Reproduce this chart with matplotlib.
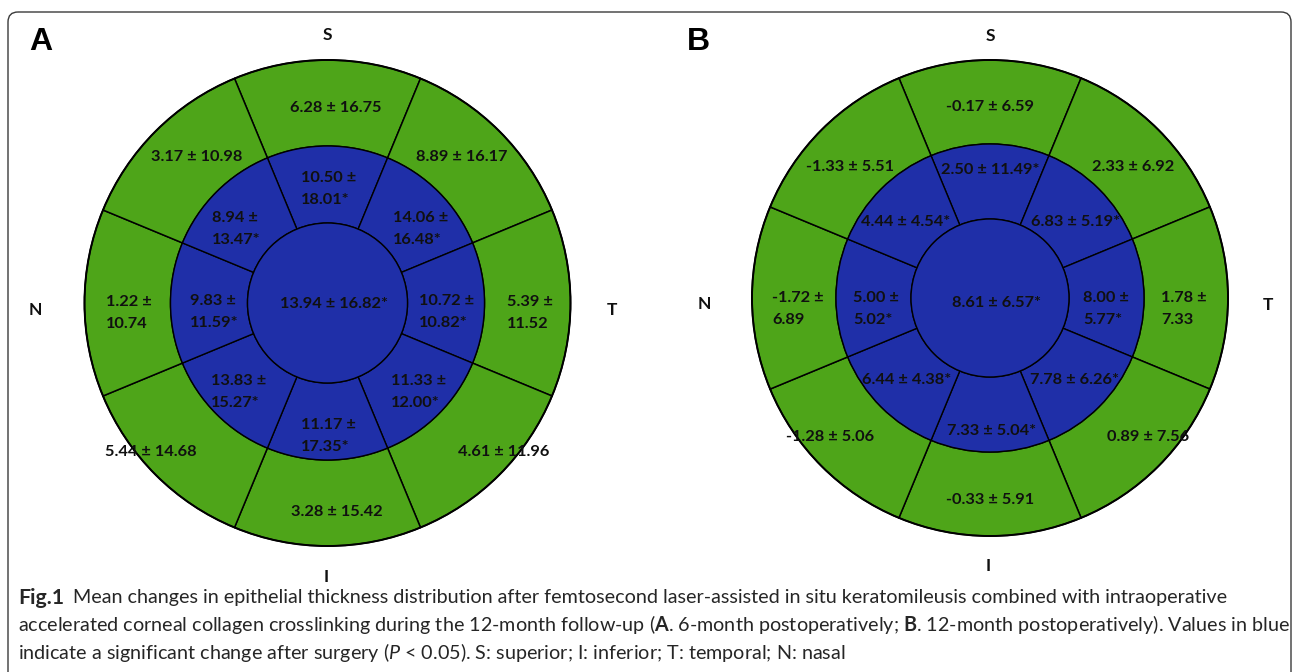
import matplotlib
matplotlib.use('Agg')

import matplotlib.pyplot as plt
from matplotlib.patches import Wedge, Circle, FancyBboxPatch

plt.rcParams['font.family'] = ['Lato', 'DejaVu Sans']
plt.rcParams['mathtext.fontset'] = 'custom'
plt.rcParams['mathtext.rm'] = 'Lato'
plt.rcParams['mathtext.bf'] = 'Lato:bold'
plt.rcParams['mathtext.it'] = 'Lato:italic'

# sectors, clockwise from superior (temporal on the right)
sectors = ["S", "ST", "T", "IT", "I", "IN", "N", "SN"]

# panel A: 6-month postoperatively
a_outer_mean = [6.28, 8.89, 5.39, 4.61, 3.28, 5.44, 1.22, 3.17]
a_outer_sd = [16.75, 16.17, 11.52, 11.96, 15.42, 14.68, 10.74, 10.98]
a_inner_mean = [10.50, 14.06, 10.72, 11.33, 11.17, 13.83, 9.83, 8.94]
a_inner_sd = [18.01, 16.48, 10.82, 12.00, 17.35, 15.27, 11.59, 13.47]
a_center = (13.94, 16.82)

# panel B: 12-month postoperatively
b_outer_mean = [-0.17, 2.33, 1.78, 0.89, -0.33, -1.28, -1.72, -1.33]
b_outer_sd = [6.59, 6.92, 7.33, 7.56, 5.91, 5.06, 6.89, 5.51]
b_inner_mean = [2.50, 6.83, 8.00, 7.78, 7.33, 6.44, 5.00, 4.44]
b_inner_sd = [11.49, 5.19, 5.77, 6.26, 5.04, 4.38, 5.02, 4.54]
b_center = (8.61, 6.57)

# significant change (P < 0.05): all inner-ring and central values
outer_sig = [False] * 8
inner_sig = [True] * 8
center_sig = True

GREEN = '#4ea519'
BLUE = '#1f2fa8'
TXT = '#101010'

# visual angle of each sector centre (degrees, 90 = up)
sector_angle = {"S": 90, "ST": 45, "T": 0, "IT": -45,
                "I": -90, "IN": -135, "N": 180, "SN": 135}

W, H = 1292, 672
fig = plt.figure(figsize=(W / 100, H / 100), dpi=100)
ax = fig.add_axes([0, 0, 1, 1])
ax.set_xlim(0, W)
ax.set_ylim(H, 0)
ax.axis('off')

renderer = fig.canvas.get_renderer()


def text_width(t):
    return t.get_window_extent(renderer).width


def fit_size(s, target_px, size, **kw):
    t = ax.text(0, 0, s, fontsize=size, **kw)
    w = text_width(t)
    t.remove()
    return size * target_px / w


def label(m, s, sig, wrap):
    star = "*" if sig else ""
    sep = "\n" if wrap else " "
    return f"{m:.2f} ±{sep}{s:.2f}{star}"


CELL_SIZE = 11.8
CELL_KW = dict(ha='center', va='center', multialignment='left', fontsize=CELL_SIZE,
               fontweight='bold', color=TXT, linespacing=1.8)

# text offsets (pixels from the panel centre)
offs_a = {
    "outer": {"S": (8, -195), "ST": (134, -146), "T": (202, 10), "IT": (176, 149),
              "I": (9, 209), "IN": (-177, 149), "N": (-199, 10), "SN": (-131, -146)},
    "inner": {"S": (1, -114), "ST": (93, -74), "T": (119, 9), "IT": (91, 89),
              "I": (1, 133), "IN": (-89, 89), "N": (-113, 9), "SN": (-91, -74)},
    "center": (7, 1),
}
offs_b = {
    "outer": {"S": (0, -191), "ST": (143, -131), "T": (194, 11), "IT": (158, 139),
              "I": (0, 202), "IN": (-160, 139), "N": (-192, 11), "SN": (-140, -131)},
    "inner": {"S": (0, -128), "ST": (86, -76), "T": (116, 11), "IT": (85, 82),
              "I": (2, 133), "IN": (-83, 82), "N": (-114, 11), "SN": (-84, -76)},
    "center": (6, 5),
}


def draw_panel(cx, cy, radii, outer_m, outer_s, inner_m, inner_s, center,
               offs, wrap_outer, wrap_inner, letter, letter_xy, dir_xy):
    r_out, r_mid, r_in = radii
    for k, sec in enumerate(sectors):
        phi = sector_angle[sec]
        # y axis is inverted, so data angle = -visual angle
        t1, t2 = -phi - 22.5, -phi + 22.5
        ax.add_patch(Wedge((cx, cy), r_out, t1, t2, width=r_out - r_mid,
                           facecolor=BLUE if outer_sig[k] else GREEN,
                           edgecolor='black', lw=1.1))
        ax.add_patch(Wedge((cx, cy), r_mid, t1, t2, width=r_mid - r_in,
                           facecolor=BLUE if inner_sig[k] else GREEN,
                           edgecolor='black', lw=1.0))
        dx, dy = offs["outer"][sec]
        ax.text(cx + dx, cy + dy,
                label(outer_m[k], outer_s[k], outer_sig[k], sec in wrap_outer),
                **CELL_KW)
        dx, dy = offs["inner"][sec]
        ax.text(cx + dx, cy + dy,
                label(inner_m[k], inner_s[k], inner_sig[k], sec in wrap_inner),
                **CELL_KW)
    ax.add_patch(Circle((cx, cy), r_in, facecolor=BLUE if center_sig else GREEN,
                        edgecolor='black', lw=1.0))
    ax.add_patch(Circle((cx, cy), r_out, facecolor='none', edgecolor='black', lw=1.4))
    dx, dy = offs["center"]
    ax.text(cx + dx, cy + dy, label(center[0], center[1], center_sig, False), **CELL_KW)

    ax.text(*letter_xy, letter, ha='center', va='center', fontsize=23,
            fontweight='bold', family='Liberation Sans', color='black')
    for name, (x, y) in dir_xy.items():
        ax.text(x, y, name, ha='center', va='center', fontsize=12.5,
                fontweight='bold', color=TXT)


draw_panel(327.5, 303, (243, 157, 80),
           a_outer_mean, a_outer_sd, a_inner_mean, a_inner_sd, a_center,
           offs_a, {"N", "T"}, set(sectors), "A", (41, 42),
           {"S": (327, 35), "I": (326, 577), "N": (35, 310), "T": (612, 310)})

draw_panel(990, 298, (238, 154, 79),
           b_outer_mean, b_outer_sd, b_inner_mean, b_inner_sd, b_center,
           offs_b, {"N", "T"}, {"N", "T"}, "B", (698, 42),
           {"S": (990, 36), "I": (988, 566), "N": (704, 304), "T": (1268, 305)})

# frame around the figure
ax.add_patch(FancyBboxPatch((8, 12), 1283, 720, boxstyle="round,pad=0,rounding_size=10",
                            facecolor='none', edgecolor='#3a3a3a', lw=1.0))

# caption
CAP_COLOR = '#262626'
cap = [
    "Mean changes in epithelial thickness distribution after femtosecond "
    "laser-assisted in situ keratomileusis combined with intraoperative",
    r"accelerated corneal collagen crosslinking during the 12-month follow-up "
    r"($\mathbf{A}$. 6-month postoperatively; $\mathbf{B}$. 12-month postoperatively). Values in blue",
    r"indicate a significant change after surgery ($\mathit{P}$ < 0.05). "
    r"S: superior; I: inferior; T: temporal; N: nasal",
]
cap_size = fit_size(cap[1], 1270, 12, color=CAP_COLOR)
fig_lbl = ax.text(18, 598, "Fig.1", ha='left', va='center', fontsize=cap_size * 1.08,
                  fontweight='bold', color=CAP_COLOR)
x0 = 18 + text_width(fig_lbl) + 9
ax.text(x0, 598, cap[0], ha='left', va='center', fontsize=cap_size, color=CAP_COLOR)
for i, line in enumerate(cap[1:], start=1):
    ax.text(18, 598 + 27 * i, line, ha='left', va='center', fontsize=cap_size,
            color=CAP_COLOR)

fig.savefig('out.png', dpi=100)
plt.close(fig)
